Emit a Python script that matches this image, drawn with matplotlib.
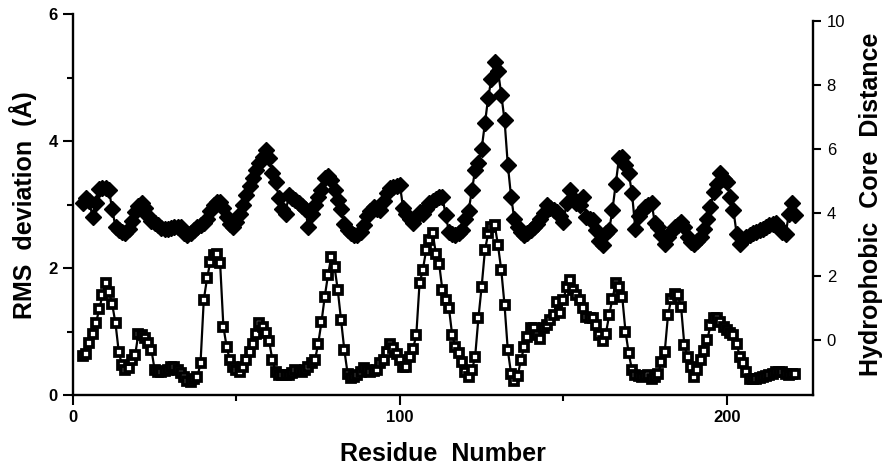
import numpy as np
import matplotlib
matplotlib.use("Agg")
import matplotlib.pyplot as plt
from matplotlib.ticker import MultipleLocator

plt.rcParams['font.family'] = ['Liberation Sans', 'DejaVu Sans']

# residues 3..221, one point per residue
residues = np.arange(3, 222)

# RMS deviation (A), open squares, left axis
rms = [
    0.62, 0.65, 0.82, 0.96, 1.13, 1.35, 1.57, 1.76, 1.63, 1.43,   # 3-12
    1.13, 0.68, 0.47, 0.39, 0.42, 0.55, 0.63, 0.97, 0.95, 0.90,   # 13-22
    0.82, 0.71, 0.39, 0.37, 0.37, 0.38, 0.40, 0.45, 0.45, 0.40,   # 23-32
    0.35, 0.28, 0.22, 0.20, 0.25, 0.28, 0.50, 1.50, 1.84, 2.10,   # 33-42
    2.20, 2.22, 2.08, 1.08, 0.76, 0.55, 0.45, 0.39, 0.37, 0.45,   # 43-52
    0.55, 0.68, 0.80, 0.97, 1.13, 1.08, 0.98, 0.85, 0.55, 0.37,   # 53-62
    0.32, 0.31, 0.31, 0.32, 0.35, 0.39, 0.38, 0.37, 0.40, 0.45,   # 63-72
    0.50, 0.55, 0.81, 1.15, 1.55, 1.89, 2.18, 2.02, 1.65, 1.18,   # 73-82
    0.71, 0.34, 0.27, 0.28, 0.31, 0.37, 0.42, 0.40, 0.37, 0.38,   # 83-92
    0.40, 0.50, 0.55, 0.68, 0.81, 0.75, 0.65, 0.55, 0.45, 0.45,   # 93-102
    0.60, 0.73, 0.94, 1.76, 1.97, 2.28, 2.44, 2.56, 2.23, 2.07,   # 103-112
    1.65, 1.50, 1.37, 0.94, 0.76, 0.66, 0.52, 0.37, 0.29, 0.39,   # 113-122
    0.60, 1.21, 1.71, 2.28, 2.55, 2.65, 2.68, 2.36, 1.97, 1.42,   # 123-132
    0.71, 0.34, 0.22, 0.30, 0.55, 0.76, 0.92, 1.05, 1.05, 0.95,   # 133-142
    0.89, 1.05, 1.10, 1.18, 1.26, 1.47, 1.30, 1.50, 1.71, 1.81,   # 143-152
    1.65, 1.57, 1.50, 1.37, 1.23, 1.22, 1.21, 1.10, 0.95, 0.85,   # 153-162
    0.97, 1.26, 1.52, 1.76, 1.70, 1.55, 1.00, 0.66, 0.39, 0.31,   # 163-172
    0.30, 0.29, 0.30, 0.31, 0.26, 0.28, 0.34, 0.52, 0.68, 1.26,   # 173-182
    1.52, 1.60, 1.57, 1.39, 0.79, 0.60, 0.45, 0.29, 0.39, 0.55,   # 183-192
    0.70, 0.87, 1.10, 1.21, 1.21, 1.15, 1.08, 1.02, 0.98, 0.94,   # 193-202
    0.81, 0.60, 0.50, 0.37, 0.26, 0.26, 0.26, 0.27, 0.29, 0.30,   # 203-212
    0.31, 0.33, 0.37, 0.37, 0.37, 0.34, 0.31, 0.33, 0.34,         # 213-221
]

# hydrophobic core distance, filled diamonds, right axis
core = [
    4.30, 4.45, 4.35, 3.85, 4.30, 4.75, 4.78, 4.78, 4.70, 4.10,   # 3-12
    3.55, 3.45, 3.40, 3.35, 3.50, 3.75, 4.02, 4.20, 4.30, 4.15,   # 13-22
    3.90, 3.75, 3.66, 3.60, 3.52, 3.50, 3.50, 3.52, 3.55, 3.55,   # 23-32
    3.55, 3.35, 3.29, 3.35, 3.45, 3.55, 3.60, 3.66, 3.80, 4.05,   # 33-42
    4.25, 4.34, 4.34, 4.15, 3.85, 3.65, 3.55, 3.70, 3.95, 4.25,   # 43-52
    4.55, 4.85, 5.10, 5.35, 5.55, 5.75, 5.96, 5.70, 5.23, 4.96,   # 53-62
    4.45, 4.10, 3.97, 4.55, 4.45, 4.40, 4.29, 4.20, 4.10, 3.55,   # 63-72
    3.97, 4.25, 4.50, 4.70, 5.10, 5.15, 5.02, 4.70, 4.40, 4.10,   # 73-82
    3.65, 3.45, 3.35, 3.30, 3.30, 3.40, 3.60, 3.90, 4.05, 4.18,   # 83-92
    4.10, 4.08, 4.35, 4.60, 4.76, 4.81, 4.83, 4.86, 4.13, 3.95,   # 93-102
    3.80, 3.66, 3.85, 4.02, 3.97, 4.10, 4.29, 4.35, 4.42, 4.49,   # 103-112
    4.49, 3.92, 3.40, 3.32, 3.29, 3.35, 3.45, 3.81, 4.05, 4.70,   # 113-122
    5.33, 5.55, 6.00, 6.80, 7.60, 8.20, 8.72, 8.45, 7.70, 6.90,   # 123-132
    5.50, 4.50, 3.80, 3.55, 3.40, 3.30, 3.35, 3.45, 3.55, 3.65,   # 133-142
    3.80, 4.00, 4.23, 4.15, 4.08, 4.02, 3.90, 3.71, 4.29, 4.70,   # 143-152
    4.45, 4.30, 4.23, 4.49, 3.87, 3.80, 3.76, 3.45, 3.10, 3.00,   # 153-162
    3.35, 3.45, 4.08, 4.90, 5.70, 5.75, 5.50, 5.23, 4.60, 3.50,   # 163-172
    3.90, 4.05, 4.18, 4.25, 4.29, 3.66, 3.55, 3.30, 3.03, 3.25,   # 173-182
    3.40, 3.55, 3.60, 3.71, 3.55, 3.25, 3.08, 3.03, 3.10, 3.25,   # 183-192
    3.50, 3.81, 4.18, 4.65, 4.91, 5.24, 5.05, 4.95, 4.49, 4.08,   # 193-202
    3.34, 3.03, 3.15, 3.25, 3.29, 3.35, 3.40, 3.45, 3.50, 3.55,   # 203-212
    3.61, 3.63, 3.66, 3.55, 3.40, 3.34, 3.97, 4.29, 3.92,         # 213-221
]

fig = plt.figure(figsize=(8.86, 4.71), dpi=100)
ax = fig.add_axes([0.0824, 0.161, 0.835, 0.809])
ax2 = ax.twinx()

ax.plot(residues, rms, color='black', lw=1.6, marker='s', ms=5.5,
        mfc='white', mec='black', mew=2.7, zorder=3)
ax2.plot(residues, core, color='black', lw=1.6, marker='D', ms=8,
         mfc='black', mec='black', zorder=3)

ax.set_xlim(0, 226.3)
ax.set_ylim(0, 6)
ax2.set_ylim(-1.72, 10.22)

ax.spines['top'].set_visible(False)
ax.spines['right'].set_visible(False)
ax2.spines['top'].set_visible(False)
ax2.spines['left'].set_visible(False)
ax2.spines['bottom'].set_visible(False)
ax2.spines['right'].set_bounds(-1.72, 10)
for sp in ['left', 'bottom']:
    ax.spines[sp].set_linewidth(1.7)
ax2.spines['right'].set_linewidth(1.7)

ax.xaxis.set_major_locator(MultipleLocator(100))
ax.xaxis.set_minor_locator(MultipleLocator(50))
ax.yaxis.set_major_locator(MultipleLocator(2))
ax.yaxis.set_minor_locator(MultipleLocator(1))
ax2.set_yticks([0, 2, 4, 6, 8, 10])

ax.tick_params(which='major', direction='out', length=7, width=1.5,
               labelsize=12, pad=4)
ax.tick_params(which='minor', direction='out', length=4, width=1.5)
ax2.tick_params(which='major', direction='out', length=6, width=1.5,
                labelsize=12, pad=4)
for lbl in ax.get_xticklabels() + ax.get_yticklabels():
    lbl.set_fontweight('bold')

ax.set_xlabel("Residue  Number", fontsize=18, fontweight='bold', labelpad=12)
ax.set_ylabel("RMS  deviation  (Å)", fontsize=18, fontweight='bold', labelpad=8)
ax2.set_ylabel("Hydrophobic  Core  Distance", fontsize=18, fontweight='bold',
               labelpad=10)

fig.savefig("out.png", dpi=100)
